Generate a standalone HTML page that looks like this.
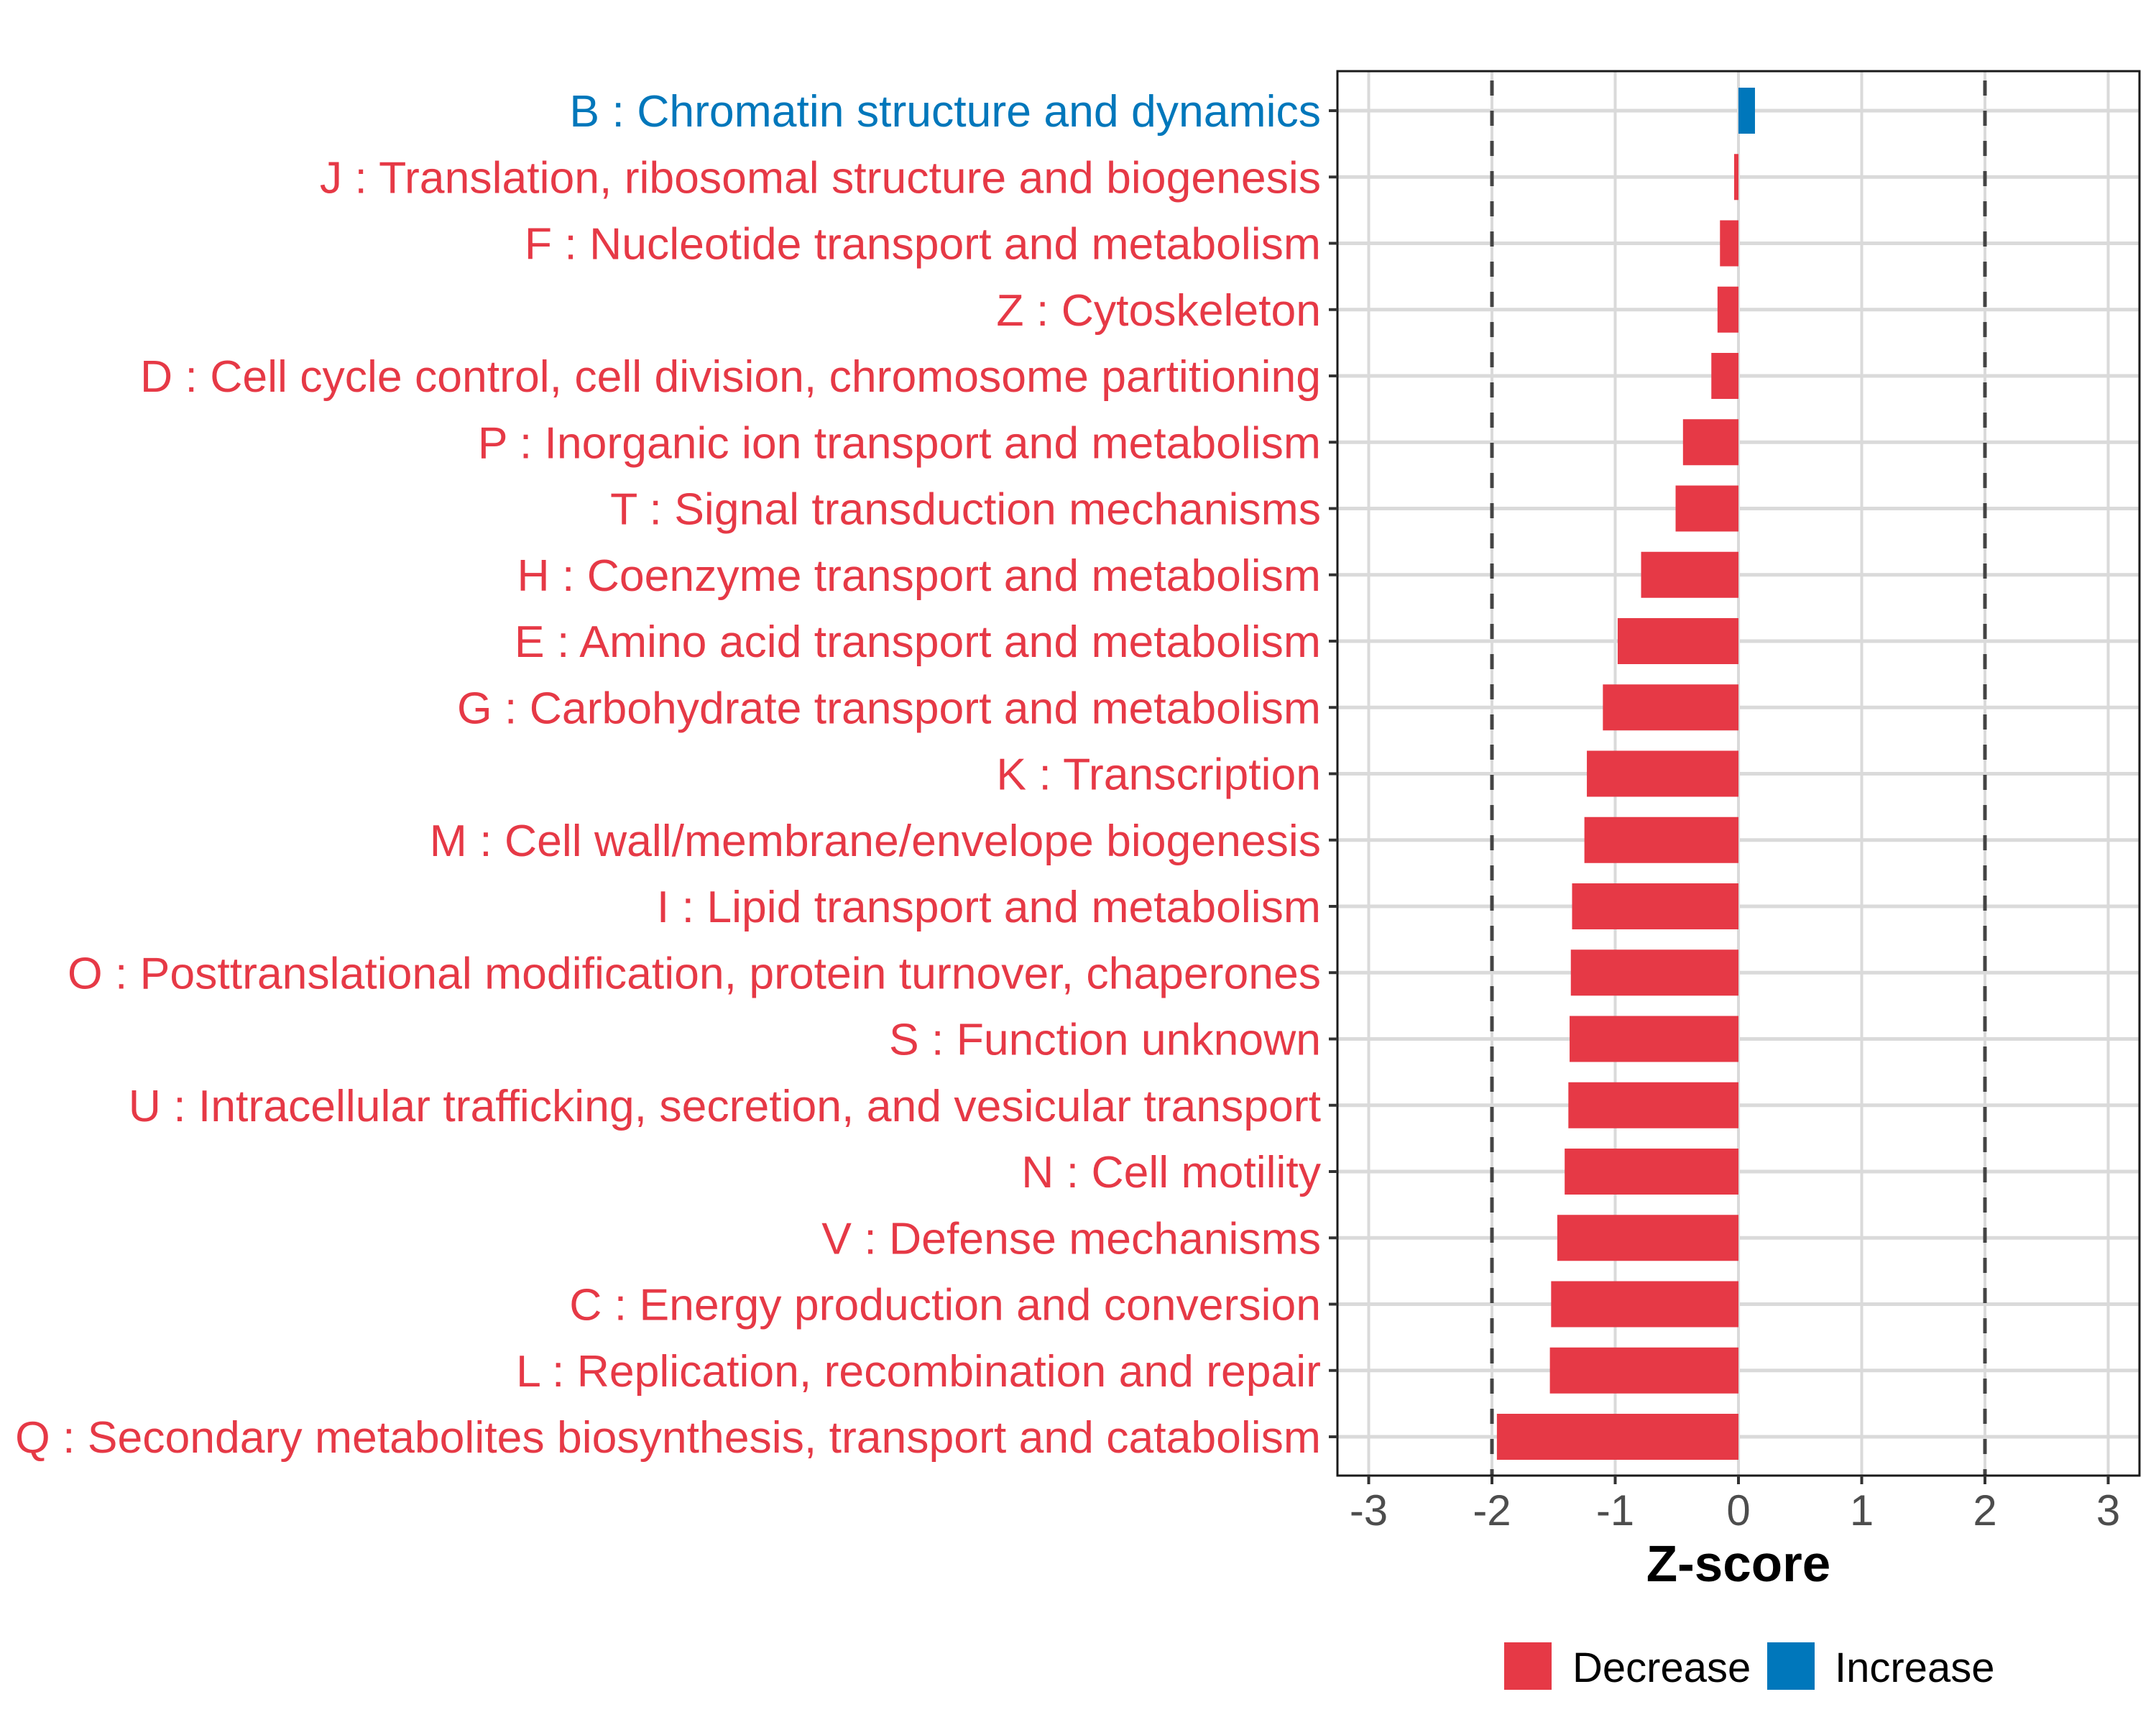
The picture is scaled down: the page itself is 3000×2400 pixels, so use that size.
<!DOCTYPE html>
<html><head><meta charset="utf-8"><style>
html,body{margin:0;padding:0;background:#fff;}
svg{display:block;font-family:"Liberation Sans",Arial,sans-serif;}
</style></head><body>
<svg id="chart" width="3000" height="2400" viewBox="0 0 3000 2400" xmlns="http://www.w3.org/2000/svg">
<rect x="0" y="0" width="3000" height="2400" fill="#fff"/>
<g id="grid"></g>
<g id="bars"></g>
<g id="refs"></g>
<rect x="1861" y="99" width="1116" height="1954" fill="none" stroke="#1a1a1a" stroke-width="3"/>
<g id="yaxis"></g>
<g id="xaxis"></g>
<text x="2419" y="2200" text-anchor="middle" font-size="71" font-weight="bold" fill="#000">Z-score</text>
<g>
<rect x="2093" y="2285" width="66" height="66" fill="#E63946"/>
<text x="2188" y="2340" font-size="58" fill="#000">Decrease</text>
<rect x="2459" y="2285" width="66" height="66" fill="#0077BB"/>
<text x="2553" y="2340" font-size="58" fill="#000">Increase</text>
</g>
</svg>
<script>
const categories = [
"B : Chromatin structure and dynamics",
"J : Translation, ribosomal structure and biogenesis",
"F : Nucleotide transport and metabolism",
"Z : Cytoskeleton",
"D : Cell cycle control, cell division, chromosome partitioning",
"P : Inorganic ion transport and metabolism",
"T : Signal transduction mechanisms",
"H : Coenzyme transport and metabolism",
"E : Amino acid transport and metabolism",
"G : Carbohydrate transport and metabolism",
"K : Transcription",
"M : Cell wall/membrane/envelope biogenesis",
"I : Lipid transport and metabolism",
"O : Posttranslational modification, protein turnover, chaperones",
"S : Function unknown",
"U : Intracellular trafficking, secretion, and vesicular transport",
"N : Cell motility",
"V : Defense mechanisms",
"C : Energy production and conversion",
"L : Replication, recombination and repair",
"Q : Secondary metabolites biosynthesis, transport and catabolism"
];
const zscores = [0.134,-0.035,-0.15,-0.17,-0.22,-0.45,-0.51,-0.79,-0.98,-1.10,-1.23,-1.25,-1.35,-1.36,-1.37,-1.38,-1.41,-1.47,-1.52,-1.53,-1.96];
const xTicks = [-3,-2,-1,0,1,2,3];
const xTickLabels = ["-3","-2","-1","0","1","2","3"];
const refLines = [-2,2];

const NS="http://www.w3.org/2000/svg";
const RED="#E63946", BLUE="#0077BB";
const x0=2419, unit=171.5, rowTop=154, rowStep=92.25, barH=64;
const panelL=1861, panelR=2977, panelT=99, panelB=2053;
function xScale(v){return x0+v*unit;}
function yScale(i){return rowTop+i*rowStep;}
function mk(tag,attrs,parent){const e=document.createElementNS(NS,tag);for(const k in attrs)e.setAttribute(k,attrs[k]);parent.appendChild(e);return e;}
const grid=document.getElementById('grid'),bars=document.getElementById('bars'),refs=document.getElementById('refs'),yaxis=document.getElementById('yaxis'),xaxis=document.getElementById('xaxis');
xTicks.forEach((t,i)=>{
  const l=mk('line',{x1:xScale(t),x2:xScale(t),y1:panelT,y2:panelB,stroke:"#dadada","stroke-width":4},grid);
  
  
  const tk=mk('line',{x1:xScale(t),x2:xScale(t),y1:panelB,y2:panelB+12,stroke:"#333","stroke-width":4},xaxis);
  
  
  const tx=mk('text',{x:xScale(t),y:2122,"text-anchor":"middle","font-size":60,fill:"#4d4d4d"},xaxis);
  tx.textContent=xTickLabels[i];
  
  
});
categories.forEach((c,i)=>{
  const y=yScale(i);
  const g=mk('line',{x1:panelL,x2:panelR,y1:y,y2:y,stroke:"#dadada","stroke-width":5},grid);
  
  
  const v=zscores[i];
  const col=v>=0?BLUE:RED;
  const a=xScale(Math.min(0,v)),b=xScale(Math.max(0,v));
  const r=mk('rect',{x:a,y:y-barH/2,width:Math.max(b-a,1),height:barH,fill:col},bars);
  
  
  const tk=mk('line',{x1:panelL-12,x2:panelL,y1:y,y2:y,stroke:"#333","stroke-width":4},yaxis);
  
  
  const t=mk('text',{x:1838,y:y+22,"text-anchor":"end","font-size":62.5,fill:col},yaxis);
  t.textContent=c;
  
  
});
refLines.forEach(v=>{
  const l=mk('line',{x1:xScale(v),x2:xScale(v),y1:panelT,y2:panelB,stroke:"#444","stroke-width":5,"stroke-dasharray":"21 21","stroke-dashoffset":"-13"},refs);
  
  
});
</script>
</body></html>
